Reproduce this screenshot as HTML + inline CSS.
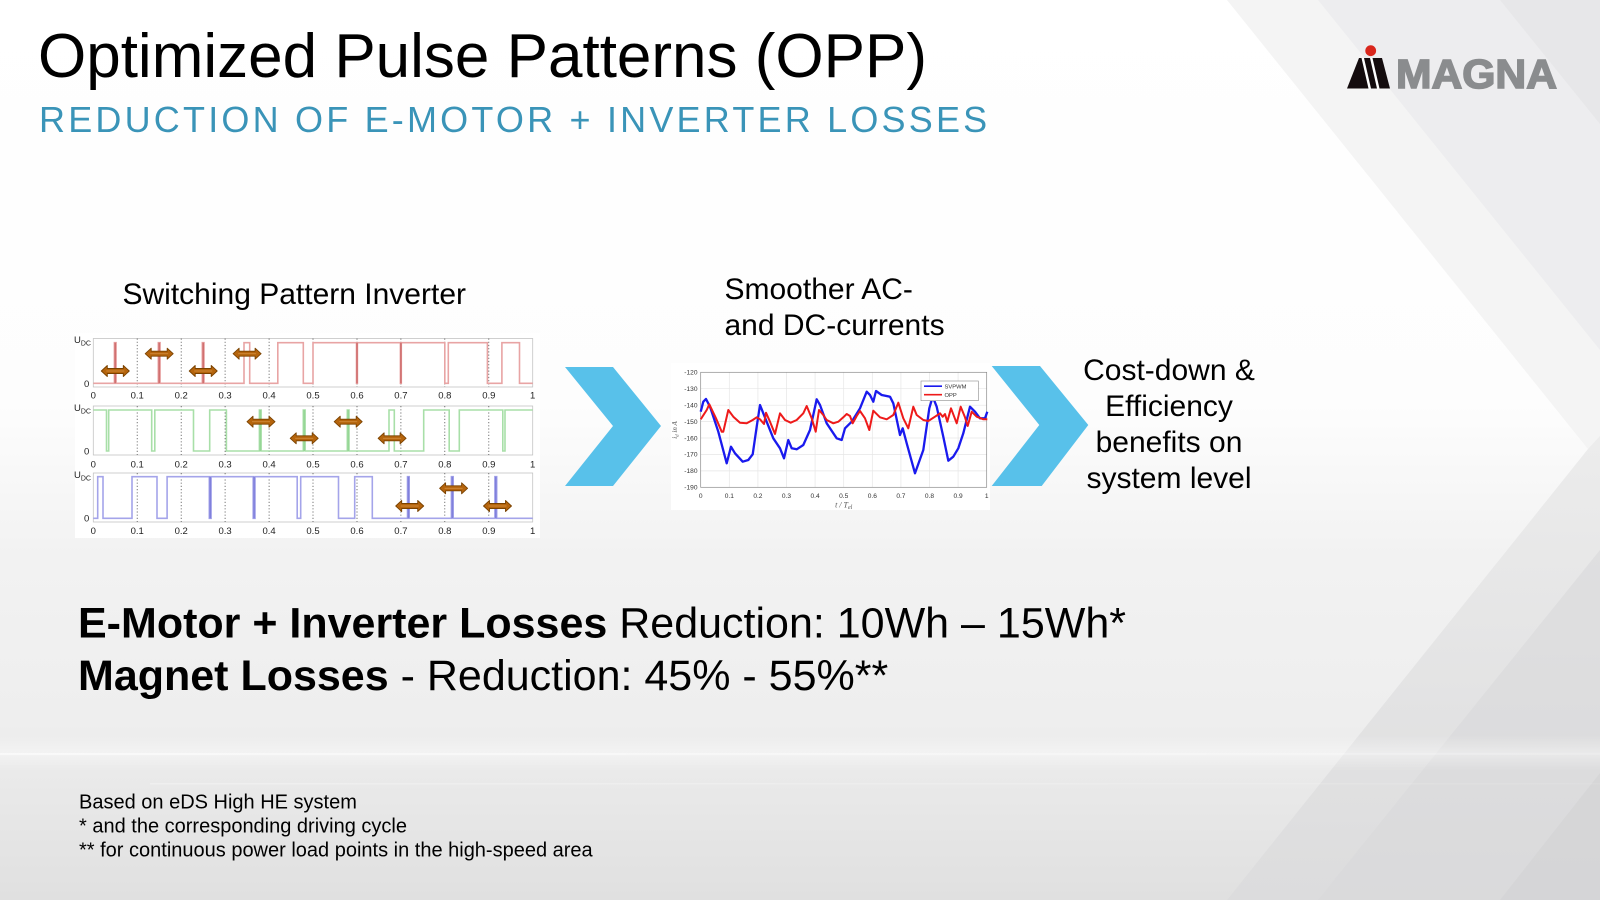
<!DOCTYPE html>
<html>
<head>
<meta charset="utf-8">
<style>
  html,body{margin:0;padding:0;width:1600px;height:900px;overflow:hidden;background:#fff;}
  svg{display:block;}
  text{font-family:"Liberation Sans", Arial, sans-serif;}
</style>
</head>
<body>
<svg width="1600" height="900" viewBox="0 0 1600 900" xmlns="http://www.w3.org/2000/svg">
  <defs>
    <linearGradient id="bg" x1="0" y1="0" x2="0" y2="1">
      <stop offset="0" stop-color="#ffffff"/>
      <stop offset="0.45" stop-color="#fdfdfd"/>
      <stop offset="0.62" stop-color="#f2f2f2"/>
      <stop offset="0.80" stop-color="#eeeeee"/>
      <stop offset="1" stop-color="#e0e0e0"/>
    </linearGradient>
    <linearGradient id="bgR" x1="0" y1="0" x2="0" y2="1">
      <stop offset="0" stop-color="#ececec"/>
      <stop offset="1" stop-color="#dcdcdd"/>
    </linearGradient>
    <linearGradient id="streak" x1="0" y1="0" x2="1" y2="0">
      <stop offset="0" stop-color="#ffffff" stop-opacity="0.8"/>
      <stop offset="0.6" stop-color="#ffffff" stop-opacity="0.5"/>
      <stop offset="1" stop-color="#ffffff" stop-opacity="0.2"/>
    </linearGradient>
    <linearGradient id="glow" x1="0" y1="0" x2="0" y2="1">
      <stop offset="0" stop-color="#ffffff" stop-opacity="0"/>
      <stop offset="0.5" stop-color="#ffffff" stop-opacity="0.55"/>
      <stop offset="1" stop-color="#ffffff" stop-opacity="0"/>
    </linearGradient>
    <g id="arr">
      <polygon points="-14,0 -8,-5.5 -8,-2.5 8,-2.5 8,-5.5 14,0 8,5.5 8,2.5 -8,2.5 -8,5.5" fill="#b5640c" stroke="#7a4200" stroke-width="0.9" stroke-linejoin="round"/>
      <line x1="-9" y1="0" x2="9" y2="0" stroke="#d08a3a" stroke-width="0.9"/>
    </g>
  </defs>

  <!-- background -->
  <rect x="0" y="0" width="1600" height="900" fill="url(#bg)"/>
  <polygon points="1227,0 1600,0 1600,464 1588,449" fill="#f4f4f4"/>
  <polygon points="1318,0 1600,0 1600,350" fill="#ededef"/>
  <polygon points="1500,0 1600,0 1600,124" fill="#e7e7e9"/>
  <polygon points="1600,436 1588,449 1227,900 1600,900" fill="url(#bgR)"/>
  <polygon points="1600,550 1318,900 1600,900" fill="#d9d9db" opacity="0.6"/>
  <polygon points="1600,773 1500,900 1600,900" fill="#d2d2d4" opacity="0.6"/>
  <rect x="0" y="735" width="1600" height="36" fill="url(#glow)" opacity="0.7"/>
  <rect x="0" y="753" width="1600" height="2" fill="url(#streak)" opacity="0.7"/>
  <rect x="150" y="783" width="1450" height="1.5" fill="url(#streak)" opacity="0.35"/>

  <!-- title -->
  <text x="38" y="77" font-size="62" fill="#000">Optimized Pulse Patterns (OPP)</text>
  <text x="39" y="132" font-size="36" letter-spacing="3.2" fill="#3a94b8">REDUCTION OF E-MOTOR + INVERTER LOSSES</text>

  <!-- logo -->
  <circle cx="1370.7" cy="50.7" r="5.4" fill="#d9261c"/>
  <polygon points="1347,88.5 1359,58 1382,58 1390,88.5" fill="#140c0e"/>
  <polygon points="1361.5,58 1364,58 1371,88.5 1368.5,88.5" fill="#ffffff"/>
  <polygon points="1370,58 1372.5,58 1379.5,88.5 1377,88.5" fill="#ffffff"/>
  <text x="1396" y="88" font-size="41" font-weight="bold" fill="#8a8c8e" stroke="#8a8c8e" stroke-width="1.6" textLength="161" lengthAdjust="spacingAndGlyphs">MAGNA</text>

  <!-- section captions -->
  <text x="122.5" y="304" font-size="30" fill="#000">Switching Pattern Inverter</text>
  <text x="724.5" y="299" font-size="30" fill="#000">Smoother AC-</text>
  <text x="724.5" y="335" font-size="30" fill="#000">and DC-currents</text>
  <g font-size="30" fill="#000" text-anchor="middle">
    <text x="1169" y="380">Cost-down &amp;</text>
    <text x="1169" y="416">Efficiency</text>
    <text x="1169" y="452">benefits on</text>
    <text x="1169" y="488">system level</text>
  </g>

  <!-- chevrons -->
  <polygon points="565,367 613,367 661,426 613,486 565,486 613,426" fill="#58c1ea"/>
  <polygon points="991.7,366 1040,366 1088.3,425 1041.7,486 991.7,486 1039.3,425" fill="#58c1ea"/>

  <!-- ================= Chart 1: switching patterns ================= -->
  <rect x="75" y="333" width="465" height="205" fill="#ffffff"/>
  <g fill="none" stroke="#c4c4c4" stroke-width="0.8">
    <rect x="93.3" y="338.5" width="439.4" height="48.5"/>
    <rect x="93.3" y="406" width="439.4" height="49"/>
    <rect x="93.3" y="473" width="439.4" height="49"/>
  </g>
  <g stroke="#555" stroke-width="0.8" stroke-dasharray="1.2,2">
    <line x1="137.2" y1="338.5" x2="137.2" y2="387"/><line x1="181.2" y1="338.5" x2="181.2" y2="387"/>
    <line x1="225.1" y1="338.5" x2="225.1" y2="387"/><line x1="269.1" y1="338.5" x2="269.1" y2="387"/>
    <line x1="313.0" y1="338.5" x2="313.0" y2="387"/><line x1="357.0" y1="338.5" x2="357.0" y2="387"/>
    <line x1="400.9" y1="338.5" x2="400.9" y2="387"/><line x1="444.8" y1="338.5" x2="444.8" y2="387"/>
    <line x1="488.8" y1="338.5" x2="488.8" y2="387"/>
    <line x1="137.2" y1="406" x2="137.2" y2="455"/><line x1="181.2" y1="406" x2="181.2" y2="455"/>
    <line x1="225.1" y1="406" x2="225.1" y2="455"/><line x1="269.1" y1="406" x2="269.1" y2="455"/>
    <line x1="313.0" y1="406" x2="313.0" y2="455"/><line x1="357.0" y1="406" x2="357.0" y2="455"/>
    <line x1="400.9" y1="406" x2="400.9" y2="455"/><line x1="444.8" y1="406" x2="444.8" y2="455"/>
    <line x1="488.8" y1="406" x2="488.8" y2="455"/>
    <line x1="137.2" y1="473" x2="137.2" y2="522"/><line x1="181.2" y1="473" x2="181.2" y2="522"/>
    <line x1="225.1" y1="473" x2="225.1" y2="522"/><line x1="269.1" y1="473" x2="269.1" y2="522"/>
    <line x1="313.0" y1="473" x2="313.0" y2="522"/><line x1="357.0" y1="473" x2="357.0" y2="522"/>
    <line x1="400.9" y1="473" x2="400.9" y2="522"/><line x1="444.8" y1="473" x2="444.8" y2="522"/>
    <line x1="488.8" y1="473" x2="488.8" y2="522"/>
  </g>
  <!-- signals -->
  <path d="M93.3,383.3 H114.4 V342.7 H116.1 V383.3 H158.3 V342.7 H160.1 V383.3 H202.3 V342.7 H204 V383.3 H244 V342.7 H249.7 V383.3 H277.8 V342.7 H303.3 V383.3 H313 V342.7 H356.5 V383.3 H357.4 V342.7 H400.4 V383.3 H401.3 V342.7 H444.8 V383.3 H448.3 V342.7 H487.4 V383.3 H501.9 V342.7 H519.5 V383.3 H532.7" fill="none" stroke="#e8a4a4" stroke-width="1.6"/>
  <g stroke="#d07070" stroke-width="1.6">
    <line x1="115.2" y1="342.7" x2="115.2" y2="383.3"/><line x1="159.2" y1="342.7" x2="159.2" y2="383.3"/>
    <line x1="203.2" y1="342.7" x2="203.2" y2="383.3"/><line x1="357" y1="342.7" x2="357" y2="383.3"/>
    <line x1="400.9" y1="342.7" x2="400.9" y2="383.3"/>
  </g>
  <path d="M93.3,410 H106.5 V451 H108.7 V410 H151.7 V451 H154.8 V410 H193.5 V451 H209.7 V410 H226.4 V451 H259.4 V410 H261.1 V451 H303.3 V410 H305.1 V451 H347.3 V410 H349 V451 H389 V410 H394.3 V451 H423.7 V410 H449.2 V451 H459.3 V410 H502.8 V451 H505 V410 H532.7" fill="none" stroke="#a8dfa8" stroke-width="1.6"/>
  <g stroke="#96d696" stroke-width="1.6">
    <line x1="260.3" y1="410" x2="260.3" y2="451"/><line x1="304.2" y1="410" x2="304.2" y2="451"/>
    <line x1="348.2" y1="410" x2="348.2" y2="451"/>
  </g>
  <path d="M93.3,518.3 H97.7 V476.7 H103 V518.3 H132 V476.7 H157 V518.3 H167.1 V476.7 H209.3 V518.3 H211.1 V476.7 H253.2 V518.3 H255 V476.7 H297.2 V518.3 H300.7 V476.7 H338.5 V518.3 H354.7 V476.7 H372.3 V518.3 H407.5 V476.7 H409.2 V518.3 H451.4 V476.7 H453.2 V518.3 H494.9 V476.7 H496.7 V518.3 H532.7" fill="none" stroke="#a4a4ea" stroke-width="1.6"/>
  <g stroke="#8080dc" stroke-width="1.6">
    <line x1="210.2" y1="476.7" x2="210.2" y2="518.3"/><line x1="254.1" y1="476.7" x2="254.1" y2="518.3"/>
    <line x1="408.4" y1="476.7" x2="408.4" y2="518.3"/><line x1="452.3" y1="476.7" x2="452.3" y2="518.3"/>
    <line x1="495.8" y1="476.7" x2="495.8" y2="518.3"/>
  </g>
  <!-- arrows -->
  <use href="#arr" x="115.3" y="371"/>
  <use href="#arr" x="159.2" y="353.7"/>
  <use href="#arr" x="203.2" y="371"/>
  <use href="#arr" x="247.1" y="353.7"/>
  <use href="#arr" x="261" y="421.7"/>
  <use href="#arr" x="304.2" y="438.3"/>
  <use href="#arr" x="348.2" y="421.7"/>
  <use href="#arr" x="392.1" y="438.3"/>
  <use href="#arr" x="409.7" y="506"/>
  <use href="#arr" x="453.6" y="488.3"/>
  <use href="#arr" x="497.5" y="506"/>
  <!-- labels chart1 -->
  <g font-size="9.5" fill="#222">
    <text x="74" y="343">U<tspan font-size="7" dy="2.5">DC</tspan></text>
    <text x="84" y="387">0</text>
    <text x="74" y="411">U<tspan font-size="7" dy="2.5">DC</tspan></text>
    <text x="84" y="454.5">0</text>
    <text x="74" y="478">U<tspan font-size="7" dy="2.5">DC</tspan></text>
    <text x="84" y="521.5">0</text>
  </g>
  <g font-size="9.5" fill="#222" text-anchor="middle">
    <text x="93.3" y="398.5">0</text><text x="137.2" y="398.5">0.1</text><text x="181.2" y="398.5">0.2</text>
    <text x="225.1" y="398.5">0.3</text><text x="269.1" y="398.5">0.4</text><text x="313.0" y="398.5">0.5</text>
    <text x="357.0" y="398.5">0.6</text><text x="400.9" y="398.5">0.7</text><text x="444.8" y="398.5">0.8</text>
    <text x="488.8" y="398.5">0.9</text><text x="532.7" y="398.5">1</text>
    <text x="93.3" y="467.5">0</text><text x="137.2" y="467.5">0.1</text><text x="181.2" y="467.5">0.2</text>
    <text x="225.1" y="467.5">0.3</text><text x="269.1" y="467.5">0.4</text><text x="313.0" y="467.5">0.5</text>
    <text x="357.0" y="467.5">0.6</text><text x="400.9" y="467.5">0.7</text><text x="444.8" y="467.5">0.8</text>
    <text x="488.8" y="467.5">0.9</text><text x="532.7" y="467.5">1</text>
    <text x="93.3" y="534">0</text><text x="137.2" y="534">0.1</text><text x="181.2" y="534">0.2</text>
    <text x="225.1" y="534">0.3</text><text x="269.1" y="534">0.4</text><text x="313.0" y="534">0.5</text>
    <text x="357.0" y="534">0.6</text><text x="400.9" y="534">0.7</text><text x="444.8" y="534">0.8</text>
    <text x="488.8" y="534">0.9</text><text x="532.7" y="534">1</text>
  </g>

  <!-- ================= Chart 2: current ================= -->
  <rect x="671" y="363" width="319" height="147" fill="#ffffff"/>
  <g stroke="#e6e6e6" stroke-width="0.7">
    <line x1="700.7" y1="388.7" x2="986.7" y2="388.7"/><line x1="700.7" y1="405.2" x2="986.7" y2="405.2"/>
    <line x1="700.7" y1="421.6" x2="986.7" y2="421.6"/><line x1="700.7" y1="438.0" x2="986.7" y2="438.0"/>
    <line x1="700.7" y1="454.4" x2="986.7" y2="454.4"/><line x1="700.7" y1="470.9" x2="986.7" y2="470.9"/>
    <line x1="729.3" y1="372.3" x2="729.3" y2="487.3"/><line x1="757.9" y1="372.3" x2="757.9" y2="487.3"/>
    <line x1="786.5" y1="372.3" x2="786.5" y2="487.3"/><line x1="815.1" y1="372.3" x2="815.1" y2="487.3"/>
    <line x1="843.7" y1="372.3" x2="843.7" y2="487.3"/><line x1="872.3" y1="372.3" x2="872.3" y2="487.3"/>
    <line x1="900.9" y1="372.3" x2="900.9" y2="487.3"/><line x1="929.5" y1="372.3" x2="929.5" y2="487.3"/>
    <line x1="958.1" y1="372.3" x2="958.1" y2="487.3"/>
  </g>
  <rect x="700.7" y="372.3" width="286" height="115" fill="none" stroke="#8a8a8a" stroke-width="0.7"/>
  <polyline fill="none" stroke="#1a1aee" stroke-width="2.3" stroke-linejoin="round" points="700.7,411.7 703.3,401.7 706,399 710,406.7 718.3,431.7 726.7,463.3 731,446.7 735,453.3 742.7,461.7 748.3,460 752.7,454.3 756.7,426.7 760,405 763.3,413.3 773.3,438.3 780,448.3 784,458.3 788.3,440 791.7,448.3 796.7,449.3 803.3,445 810,430 816.7,399.3 820,405 826.7,423.3 836.7,438.3 841.7,440 845,428.3 851.7,421.7 860,408.3 866.7,391.7 870,395 873.3,401.7 876,391 881.7,395 890,396.7 893.3,403.3 900,435 902.7,428.3 906.7,443.3 915,473.3 923.3,450 929.3,408.3 932.7,396.7 936.7,406.7 943.3,436.7 948.3,460.7 953.3,456.7 958.3,448.3 963.3,433.3 970,406.7 975,411.7 980,418.3 985,418.3 987.3,411.7"/>
  <polyline fill="none" stroke="#ee1a1a" stroke-width="2" stroke-linejoin="round" points="700.7,419.3 706.7,410 709.3,404.3 716,418.3 721.7,431.7 723.3,431.7 728.3,410 733.3,416.7 740,422.7 746.7,423.3 752.7,420 756.7,417.3 760,419.3 764,424 766,412.7 770,421.7 775,434 780,413.3 785,420 790.7,422.7 796.7,420 803.3,413.3 806.7,406 811.7,418.3 815.7,431.7 819,410 823.3,415 826.7,420 833.3,423.3 838.3,421.7 843.3,417.3 846.7,414 850,416 852.7,423.3 856.7,416 860,411 865,418.3 869.3,430 873.3,410.7 880,417.3 886.7,419.3 893.3,415 898.3,402.7 903.3,418.3 908.3,428.3 913.3,406.7 916.7,415 923.3,420 928.3,421 935,416.7 940,413.3 942.7,416.7 945,414 947.3,421.7 951,408.3 956.7,423.3 960.7,406.7 965,417.3 967.7,426 971.7,411.7 976.7,416.7 983.3,419.3 987.3,419.3"/>
  <!-- legend -->
  <rect x="921" y="381" width="57.3" height="19.7" fill="#ffffff" stroke="#8a8a8a" stroke-width="0.6"/>
  <line x1="924" y1="386.2" x2="942" y2="386.2" stroke="#1a1aee" stroke-width="1.6"/>
  <line x1="924" y1="394.7" x2="942" y2="394.7" stroke="#ee1a1a" stroke-width="1.6"/>
  <g font-size="5.8" fill="#333">
    <text x="944.5" y="388.3">SVPWM</text>
    <text x="944.5" y="396.8">OPP</text>
  </g>
  <!-- ticks chart2 -->
  <g font-size="6.6" fill="#333" text-anchor="end">
    <text x="697.5" y="374.6">-120</text><text x="697.5" y="391">-130</text><text x="697.5" y="407.5">-140</text>
    <text x="697.5" y="423.9">-150</text><text x="697.5" y="440.3">-160</text><text x="697.5" y="456.7">-170</text>
    <text x="697.5" y="473.2">-180</text><text x="697.5" y="489.6">-190</text>
  </g>
  <g font-size="6.6" fill="#333" text-anchor="middle">
    <text x="700.7" y="498">0</text><text x="729.3" y="498">0.1</text><text x="757.9" y="498">0.2</text>
    <text x="786.5" y="498">0.3</text><text x="815.1" y="498">0.4</text><text x="843.7" y="498">0.5</text>
    <text x="872.3" y="498">0.6</text><text x="900.9" y="498">0.7</text><text x="929.5" y="498">0.8</text>
    <text x="958.1" y="498">0.9</text><text x="986.7" y="498">1</text>
  </g>
  <text x="843.7" y="507.5" font-size="8" fill="#555" text-anchor="middle" font-style="italic" style="font-family:'Liberation Serif',serif">t / T<tspan font-size="6" dy="1.5">el</tspan></text>
  <text transform="translate(677,430) rotate(-90)" font-size="7" fill="#555" text-anchor="middle" font-style="italic" style="font-family:'Liberation Serif',serif">i<tspan font-size="5" dy="1.5">d</tspan><tspan dy="-1.5"> in A</tspan></text>

  <!-- results text -->
  <text x="78" y="637.5" font-size="43" fill="#000"><tspan font-weight="bold">E-Motor + Inverter Losses</tspan> Reduction: 10Wh – 15Wh*</text>
  <text x="78" y="690" font-size="43" fill="#000"><tspan font-weight="bold">Magnet Losses</tspan> - Reduction: 45% - 55%**</text>

  <!-- footnotes -->
  <g font-size="20" fill="#000">
    <text x="79" y="808.5">Based on eDS High HE system</text>
    <text x="79" y="832.5">* and the corresponding driving cycle</text>
    <text x="79" y="856.5">** for continuous power load points in the high-speed area</text>
  </g>
</svg>
</body>
</html>
